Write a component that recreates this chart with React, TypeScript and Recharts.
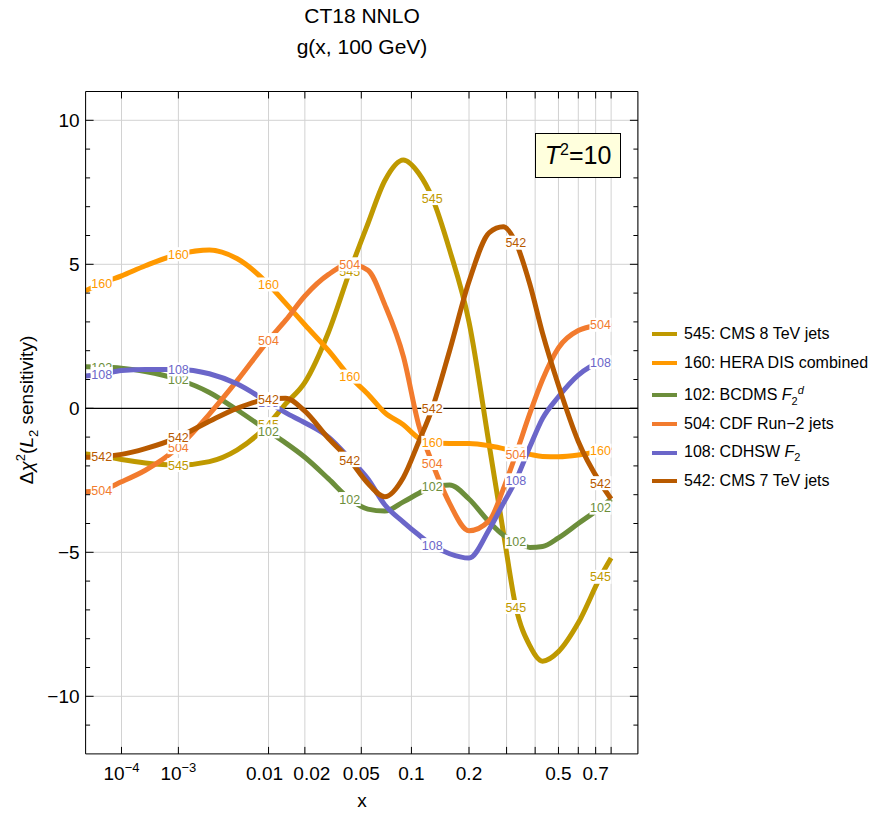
import React from 'react';
import { LineChart, Line, XAxis, YAxis, CartesianGrid, ReferenceLine, Legend } from 'recharts';

const xValues = [1e-5, 3.2e-5, 1e-4, 3e-4, 1e-3, 2.5e-3, 5e-3, 0.01, 0.014, 0.02, 0.03, 0.042, 0.055, 0.07, 0.09, 0.11, 0.13, 0.16, 0.2, 0.25, 0.29, 0.33, 0.38, 0.43, 0.5, 0.6, 0.73, 0.8];

const cms8 = [-1.59, -1.65, -1.78, -1.9, -1.97, -1.85, -1.45, -0.55, 0.15, 0.9, 2.65, 4.75, 6.4, 7.9, 8.62, 8.15, 7.3, 5.5, 3.0, -1.3, -4.3, -6.9, -8.25, -8.78, -8.45, -7.45, -5.85, -5.2];
const hera160 = [4.08, 4.34, 4.6, 4.95, 5.35, 5.5, 5.2, 4.3, 3.65, 2.9, 2.0, 1.1, 0.5, -0.15, -0.57, -1.04, -1.2, -1.22, -1.22, -1.3, -1.4, -1.5, -1.6, -1.67, -1.68, -1.62, -1.47, -1.35];
const bcdms102 = [1.44, 1.43, 1.39, 1.28, 1.0, 0.55, -0.05, -0.8, -1.2, -1.7, -2.45, -3.15, -3.5, -3.57, -3.25, -2.95, -2.72, -2.66, -3.15, -3.95, -4.4, -4.63, -4.83, -4.8, -4.5, -4.0, -3.45, -3.15];
const cdf504 = [-2.9, -2.84, -2.55, -2.15, -1.35, -0.2, 0.95, 2.37, 3.05, 3.9, 4.65, 5.0, 4.8, 3.6, 1.8, -0.6, -1.9, -3.3, -4.25, -3.9, -2.8, -1.6, -0.17, 1.0, 2.1, 2.7, 2.9, 2.95];
const cdhsw108 = [1.12, 1.19, 1.31, 1.35, 1.35, 1.2, 0.85, 0.2, -0.15, -0.5, -1.0, -1.75, -2.45, -3.35, -3.95, -4.4, -4.75, -5.05, -5.2, -4.2, -3.3, -2.5, -1.33, -0.35, 0.4, 1.15, 1.6, 1.68];
const cms7 = [-1.7, -1.68, -1.6, -1.4, -1.0, -0.45, 0.0, 0.32, 0.35, -0.1, -1.05, -1.8, -2.6, -3.07, -2.4, -1.15, 0.0, 2.0, 4.4, 6.1, 6.3, 5.75, 4.3, 2.6, 0.8, -1.15, -2.6, -3.15];

const seriesIds = ['545', '160', '102', '504', '108', '542'];
const seriesNames = ['545: CMS 8 TeV jets', '160: HERA DIS combined', '102: BCDMS F_2^d', '504: CDF Run\u22122 jets', '108: CDHSW F_2', '542: CMS 7 TeV jets'];
const seriesColors = ['#BF9900', '#FF9900', '#6C8E3B', '#F27B2E', '#6B66C9', '#B85A00'];
const seriesValues = [cms8, hera160, bcdms102, cdf504, cdhsw108, cms7];

// x positions where the curve numbers are printed
const labelXs = [3.2e-5, 1e-3, 0.01, 0.042, 0.13, 0.33, 0.73];

const xTickValues = [1e-4, 1e-3, 0.01, 0.02, 0.05, 0.1, 0.2, 0.3, 0.4, 0.5, 0.6, 0.7, 0.8];
const xTickLabels = ['10^-4', '10^-3', '0.01', '0.02', '0.05', '0.1', '0.2', '', '', '0.5', '', '0.7', ''];
const yTickValues = [-11, -10, -9, -8, -7, -6, -5, -4, -3, -2, -1, 0, 1, 2, 3, 4, 5, 6, 7, 8, 9, 10];
const yMajorTicks = [-10, -5, 0, 5, 10];
const yTickLabels = ['\u221210', '\u22125', '0', '5', '10'];
const yGridLines = [-10, -5, 5, 10];

const FONT = '"Liberation Sans", Arial, sans-serif';
// the x axis is linear in x^0.2
const toT = (x: number) => Math.pow(x, 0.2);

const data = xValues.map((x, i) => {
  const row: Record<string, number> = { t: toT(x) };
  seriesIds.forEach((id, k) => {
    row['s' + id] = seriesValues[k][i];
  });
  return row;
});

const labelNudge: Record<string, number> = { '0.01': -4, '0.02': 7 };

const BottomTick = (p: any) => {
  const { x, y, index } = p;
  const lab = xTickLabels[index] || '';
  const dx = labelNudge[lab] || 0;
  let text: React.ReactNode = lab;
  if (lab.startsWith('10^')) {
    text = (
      <>
        <tspan>10</tspan>
        <tspan dy={-8} fontSize={13}>{'\u2212' + lab.slice(4)}</tspan>
      </>
    );
  }
  return (
    <g>
      <line x1={x} x2={x} y1={y} y2={y - 7} stroke="#000" />
      {lab && (
        <text x={x + dx} y={y + 26} textAnchor="middle" fontSize={19} fontFamily={FONT} fill="#000">
          {text}
        </text>
      )}
    </g>
  );
};

const TopTick = (p: any) => (
  <line x1={p.x} x2={p.x} y1={p.y} y2={p.y + 7} stroke="#000" />
);

const LeftTick = (p: any) => {
  const { x, y, payload } = p;
  const k = yMajorTicks.indexOf(payload.value);
  const len = k >= 0 ? 8 : 4.5;
  return (
    <g>
      <line x1={x} x2={x + len} y1={y} y2={y} stroke="#000" />
      {k >= 0 && (
        <text x={x - 6} y={y + 7} textAnchor="end" fontSize={19} fontFamily={FONT} fill="#000">
          {yTickLabels[k]}
        </text>
      )}
    </g>
  );
};

const RightTick = (p: any) => {
  const { x, y, payload } = p;
  const len = yMajorTicks.includes(payload.value) ? 8 : 4.5;
  return <line x1={x} x2={x - len} y1={y} y2={y} stroke="#000" />;
};

const renderCurveLabel = (p: any, id: string, color: string) => {
  const { cx, cy, index } = p;
  if (!labelXs.includes(xValues[index]) || cx == null || cy == null) {
    return <g key={`n-${id}-${index}`} />;
  }
  return (
    <g key={`l-${id}-${index}`}>
      <rect x={cx - 11} y={cy - 7} width={22} height={14} fill="#fff" />
      <text x={cx} y={cy + 4.5} textAnchor="middle" fontSize={12.5} fontFamily={FONT} fill={color}>
        {id}
      </text>
    </g>
  );
};

const richName = (name: string) => {
  const m = name.match(/^(.*)F_2(\^d)?$/);
  if (!m) return name;
  return (
    <>
      {m[1]}
      <i>F</i>
      <sub style={{ fontSize: 11 }}>2</sub>
      {m[2] && (
        <sup style={{ fontSize: 11 }}>
          <i>d</i>
        </sup>
      )}
    </>
  );
};

const renderLegend = () => (
  <div style={{ fontFamily: FONT, fontSize: 16, color: '#000' }}>
    {seriesIds.map((id, i) => (
      <div
        key={id}
        style={{ display: 'flex', alignItems: 'center', height: 28.7, marginTop: i === 2 ? 4 : 0, whiteSpace: 'nowrap' }}
      >
        <span style={{ display: 'inline-block', width: 25, height: 4, background: seriesColors[i], marginRight: 7 }} />
        <span>{richName(seriesNames[i])}</span>
      </div>
    ))}
  </div>
);

export default function App() {
  return (
    <div style={{ position: 'absolute', left: 0, top: 0, width: 878, height: 815, background: '#fff', fontFamily: FONT }}>
      <div style={{ position: 'absolute', left: 0, width: 724, top: 0, textAlign: 'center', fontSize: 21, lineHeight: '31px' }}>
        <div>CT18 NNLO</div>
        <div>g(x, 100 GeV)</div>
      </div>

      <LineChart
        width={878}
        height={815}
        data={data}
        margin={{ top: 81.5, right: 230.1, bottom: 31.1, left: 45.6 }}
      >
        <CartesianGrid horizontal={false} stroke="#d2d2d2" />
        <XAxis
          dataKey="t"
          type="number"
          domain={[0.1, 1]}
          allowDataOverflow
          ticks={xTickValues.map(toT)}
          interval={0}
          height={30}
          tickSize={0}
          tickMargin={0}
          tickLine={false}
          axisLine={{ stroke: '#000' }}
          tick={(p: any) => <BottomTick {...p} />}
        />
        <XAxis
          xAxisId="top"
          orientation="top"
          dataKey="t"
          type="number"
          domain={[0.1, 1]}
          allowDataOverflow
          ticks={xTickValues.map(toT)}
          interval={0}
          height={10}
          tickSize={0}
          tickMargin={0}
          tickLine={false}
          axisLine={{ stroke: '#000' }}
          tick={(p: any) => <TopTick {...p} />}
        />
        <YAxis
          type="number"
          domain={[-12, 11]}
          allowDataOverflow
          ticks={yTickValues}
          interval={0}
          width={40}
          tickSize={0}
          tickMargin={0}
          tickLine={false}
          axisLine={{ stroke: '#000' }}
          tick={(p: any) => <LeftTick {...p} />}
        />
        <YAxis
          yAxisId="right"
          orientation="right"
          type="number"
          domain={[-12, 11]}
          allowDataOverflow
          ticks={yTickValues}
          interval={0}
          width={10}
          tickSize={0}
          tickMargin={0}
          tickLine={false}
          axisLine={{ stroke: '#000' }}
          tick={(p: any) => <RightTick {...p} />}
        />
        {yGridLines.map((v) => (
          <ReferenceLine key={v} y={v} stroke="#d2d2d2" />
        ))}
        <ReferenceLine y={0} stroke="#000" strokeWidth={1.2} />
        {seriesIds.map((id, i) => (
          <Line
            key={id}
            type="monotone"
            dataKey={'s' + id}
            stroke={seriesColors[i]}
            strokeWidth={5}
            dot={false}
            activeDot={false}
            isAnimationActive={false}
          />
        ))}
        {seriesIds.map((id, i) => (
          <Line
            key={'lab' + id}
            dataKey={'s' + id}
            stroke="none"
            legendType="none"
            dot={(p: any) => renderCurveLabel(p, id, seriesColors[i])}
            activeDot={false}
            isAnimationActive={false}
          />
        ))}
        <Legend
          layout="vertical"
          align="center"
          verticalAlign="middle"
          content={renderLegend}
          wrapperStyle={{ left: 652, top: 319.6, width: 226, height: 180 }}
        />
      </LineChart>

      <div
        style={{
          position: 'absolute',
          left: 535,
          top: 133,
          width: 86,
          height: 45,
          boxSizing: 'border-box',
          border: '1.5px solid #000',
          background: '#FFFFDD',
          display: 'flex',
          alignItems: 'center',
          justifyContent: 'center',
          fontSize: 25,
        }}
      >
        <span>
          <i>T</i>
          <sup style={{ fontSize: 16 }}>2</sup>=10
        </span>
      </div>

      <div style={{ position: 'absolute', left: 352, top: 790, width: 20, textAlign: 'center', fontSize: 19 }}>x</div>

      <div
        style={{
          position: 'absolute',
          left: 27,
          top: 410,
          transform: 'translate(-50%, -50%) rotate(-90deg)',
          whiteSpace: 'nowrap',
          fontSize: 19,
        }}
      >
        {'\u0394'}
        <i>{'\u03c7'}</i>
        <sup style={{ fontSize: 13 }}>2</sup>(<i>L</i>
        <sub style={{ fontSize: 13 }}>2</sub> sensitivity)
      </div>
    </div>
  );
}
